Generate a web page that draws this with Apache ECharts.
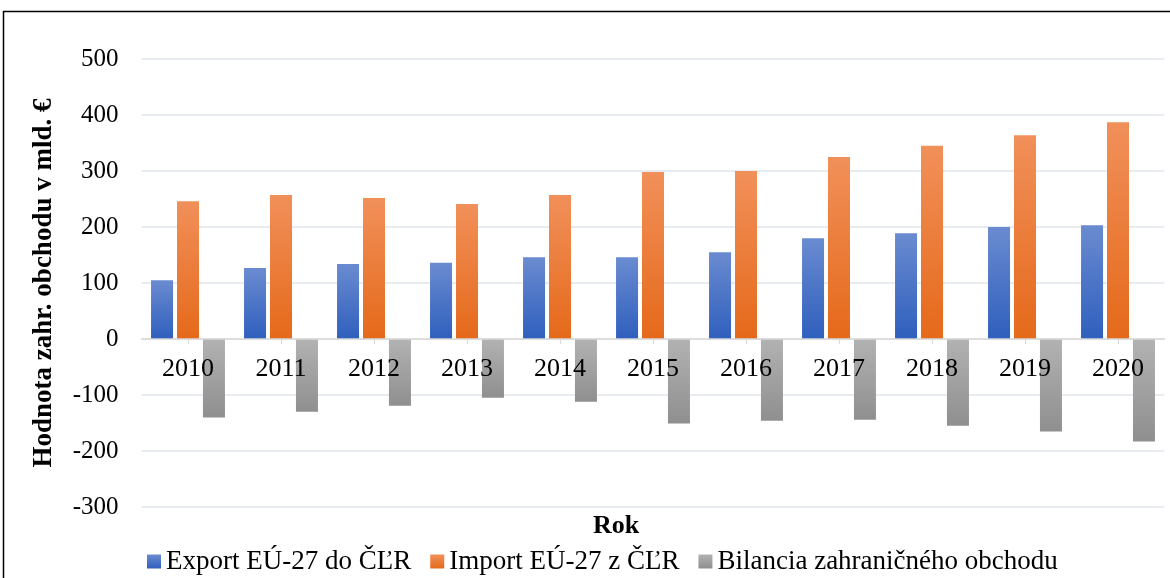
<!DOCTYPE html>
<html><head><meta charset="utf-8">
<script src="https://cdn.jsdelivr.net/npm/echarts@6/dist/echarts.min.js"></script>
<style>html,body{margin:0;padding:0;background:#fff}#c{width:1170px;height:578px}</style>
</head><body><div id="c"></div>
<script>
const years = ['2010','2011','2012','2013','2014','2015','2016','2017','2018','2019','2020'];
const exportVals = [105,127,134,136,146,146,155,180,189,200,203];
const importVals = [246,257,252,241,257,298,300,325,345,364,387];
const balanceVals = [-140,-130,-119,-105,-112,-151,-146,-144,-155,-165,-183];
const seriesNames = ['Export EÚ-27 do ČĽR','Import EÚ-27 z ČĽR','Bilancia zahraničného obchodu'];
const yTicks = {min:-300, max:500, step:100};

const font = 'Liberation Serif';
function grad(top, bottom){
  return new echarts.graphic.LinearGradient(0,0,0,1,[{offset:0,color:top},{offset:1,color:bottom}]);
}
const chart = echarts.init(document.getElementById('c'), null, {renderer:'canvas'});
chart.setOption({
  animation:false,
  backgroundColor:'#fff',
  graphic:[{type:'rect',shape:{x:3.5,y:11.5,width:1180,height:600},style:{fill:'none',stroke:'#000',lineWidth:1.5},silent:true,z:100}],
  title:{text:'Rok', left:611, top:508, textAlign:'center',
    textStyle:{fontFamily:font,fontSize:26,fontWeight:'bold',color:'#000'}},
  grid:{left:141.5,right:5.5,top:59,bottom:71},
  legend:{
    data:seriesNames, left:142, top:543, itemWidth:14, itemHeight:14, itemGap:19,
    textStyle:{fontFamily:font,fontSize:27,color:'#000',padding:[0,0,0,0]}, icon:'rect'
  },
  xAxis:{
    type:'category', data:years, offset:-168,
    axisLine:{onZero:false,lineStyle:{color:'#d9d9d9',width:1.5}},
    axisTick:{show:true,alignWithLabel:true,length:5,lineStyle:{color:'#d9d9d9'}},
    axisLabel:{fontFamily:font,fontSize:26,color:'#000',margin:17},
    z:5
  },
  yAxis:{
    type:'value', min:yTicks.min, max:yTicks.max, interval:yTicks.step,
    name:'Hodnota zahr. obchodu v mld. €', nameLocation:'middle', nameGap:84, nameRotate:90,
    nameTextStyle:{fontFamily:font,fontSize:27,fontWeight:'bold',color:'#000'},
    axisLine:{show:false}, axisTick:{show:false},
    axisLabel:{fontFamily:font,fontSize:25,color:'#000',margin:23},
    splitLine:{lineStyle:{color:'#e1e4ea',width:1.5}}
  },
  series:[
    {name:seriesNames[0],type:'bar',data:exportVals,barWidth:22,barGap:'18%',
     itemStyle:{color:grad('#6a8bd0','#2f5fbd')}},
    {name:seriesNames[1],type:'bar',data:importVals,barWidth:22,barGap:'18%',
     itemStyle:{color:grad('#f1905a','#e5691a')}},
    {name:seriesNames[2],type:'bar',data:balanceVals,barWidth:22,barGap:'18%',
     itemStyle:{color:grad('#b2b2b2','#8f8f8f')}}
  ]
});
</script></body></html>
